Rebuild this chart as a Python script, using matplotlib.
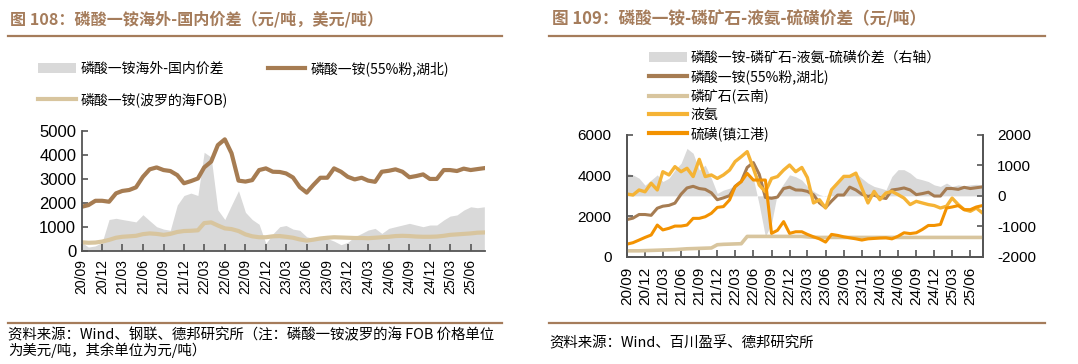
import numpy as np
import pandas as pd
import matplotlib
matplotlib.use("Agg")
import matplotlib.pyplot as plt
from matplotlib.lines import Line2D
from matplotlib.patches import Patch

plt.rcParams['font.family'] = ['Noto Sans CJK SC', 'DejaVu Sans']

# monthly dates, 2020/09 .. 2025/08
dates = pd.date_range("2020-09-01", "2025-08-01", freq="MS")

# MAP 55% powder, Hubei (yuan/t)
map_hubei = [1830, 1900, 2080, 2080,
             2040, 2390, 2490, 2530, 2640, 3080, 3390, 3470, 3360, 3320, 3150, 2810,
             2900, 3010, 3470, 3710, 4400, 4640, 4060, 2920, 2880, 2940, 3360, 3430,
             3290, 3280, 3220, 3050, 2650, 2420, 2740, 3040, 3040, 3430, 3290, 3080,
             2970, 3040, 2920, 2870, 3290, 3330, 3390, 3290, 3060, 3110, 3180, 2990,
             2990, 3360, 3360, 3320, 3420, 3360, 3400, 3440]
# MAP Baltic FOB (usd/t)
map_fob = [350, 330, 340, 380,
           450, 540, 580, 600, 620, 690, 720, 700, 660, 700, 780, 820,
           830, 850, 1150, 1180, 1050, 930, 900, 820, 680, 600, 560, 560,
           600, 610, 580, 540, 470, 420, 460, 510, 540, 560, 550, 540,
           530, 530, 520, 540, 560, 580, 610, 620, 610, 590, 580, 580,
           590, 620, 660, 680, 700, 720, 750, 760]
# overseas - domestic spread
spread_os = [350, 150, 200, 350,
             1300, 1350, 1300, 1250, 1200, 1500, 1250, 1000, 900, 850, 1900, 2300,
             2400, 2300, 4100, 3900, 1700, 1300, 1900, 2500, 1600, 1300, 1100, 300,
             700, 1000, 1050, 900, 850, 580, 510, 560, 510, 400, 250, 350,
             580, 720, 860, 930, 720, 930, 1000, 1070, 1140, 1070, 1000, 1070,
             1070, 1280, 1440, 1490, 1690, 1830, 1790, 1830]

# phosphate rock, Yunnan
rock = [290, 290, 290, 300,
        310, 320, 330, 340, 350, 370, 390, 400, 410, 420, 430, 590,
        610, 620, 630, 640, 1000, 1000, 1000, 1000, 1000, 1000, 1000, 1000,
        1000, 1000, 980, 960, 950, 950, 950, 950, 950, 950, 950, 950,
        950, 950, 950, 950, 950, 950, 950, 950, 950, 950, 950, 950,
        950, 950, 950, 950, 950, 950, 950, 950]
# liquid ammonia
ammonia = [3090, 3040, 3290, 3200,
           3620, 3290, 4190, 4030, 4440, 4190, 4360, 3950, 4800, 3950, 4030, 3860,
           4030, 4270, 4690, 4930, 5180, 4360, 3530, 3200, 3860, 3950, 4270, 4520,
           4190, 4400, 3900, 2650, 2810, 2400, 3300, 3630, 3960, 3960, 4120, 3380,
           2650, 3220, 2810, 3140, 3220, 3060, 2890, 2570, 2730, 2650, 2570, 2520,
           2400, 2490, 2890, 2570, 2320, 2240, 2400, 2160]
# sulphur, Zhenjiang port
sulphur = [620, 690, 820, 950,
           1070, 1560, 1320, 1400, 1510, 1510, 1560, 1890, 1890, 1970, 2140, 2430,
           2470, 2800, 3450, 3700, 4110, 3780, 3780, 3780, 1150, 1300, 1730, 1150,
           1230, 1230, 1100, 980, 880, 720, 1100, 1050, 980, 930, 880, 820,
           880, 900, 920, 930, 880, 1010, 1180, 1140, 1180, 1340, 1540, 1540,
           1590, 2400, 2450, 2520, 2320, 2320, 2450, 2520]
# MAP - rock - ammonia - sulphur spread (right axis)
spread_map = [740, 690, 580, 350,
              520, 690, 470, 580, 850, 1070, 1560, 1400, 850, 1010, 580, 80,
              190, 250, 350, 470, 690, 580, -300, -1340, -900, 100, 400, 690,
              630, 520, 310, 150, 40, -20, 150, 420, 690, 690, 750, 580,
              420, 310, 260, 200, 640, 860, 860, 750, 580, 530, 470, 360,
              310, 420, 310, 360, 330, 360, 380, 360]

tick_dates = pd.date_range("2020-09-01", "2025-06-01", freq="3MS")
tick_labels = [d.strftime("%y/%m") for d in tick_dates]

BROWN = "#A67C52"
TAN = "#D8C59E"
GRAY = "#D9D9D9"
YELLOW = "#F5B335"
ORANGE = "#F39200"
TITLE_C = "#A57C5B"
SPINE = "#555555"

W, H = 1078, 364
fig = plt.figure(figsize=(W / 100, H / 100), dpi=100)

def fx(px):
    return px / W

def fy(py):
    return 1 - py / H

# titles, rules and sources
fig.text(fx(10), fy(19), "图 108：磷酸一铵海外-国内价差（元/吨，美元/吨）",
         fontsize=11.6, fontweight="bold", color=TITLE_C, va="center")
fig.text(fx(552), fy(19), "图 109：磷酸一铵-磷矿石-液氨-硫磺价差（元/吨）",
         fontsize=12, fontweight="bold", color=TITLE_C, va="center")
for x0, x1 in [(8, 502), (549, 1045)]:
    for yy in (36, 323):
        fig.add_artist(Line2D([fx(x0), fx(x1)], [fy(yy), fy(yy)], color=TITLE_C, lw=1.6))
fig.text(fx(8), fy(335), "资料来源：Wind、钢联、德邦研究所（注：磷酸一铵波罗的海 FOB 价格单位",
         fontsize=10.4, va="center")
fig.text(fx(8), fy(350), "为美元/吨，其余单位为元/吨）", fontsize=10.4, va="center")
fig.text(fx(549), fy(343), "资料来源：Wind、百川盈孚、德邦研究所", fontsize=10.4, va="center")

xlim = (pd.Timestamp("2020-09-01"), pd.Timestamp("2025-08-04"))

# ---------- left chart ----------
ax = fig.add_axes([fx(81.7), fy(250.7), fx(485 - 81.7), 120 / H])
ax.fill_between(dates, 0, spread_os, color=GRAY, lw=0)
ax.plot(dates, map_hubei, color=BROWN, lw=3)
ax.plot(dates, map_fob, color=TAN, lw=3)
ax.set_xlim(xlim)
ax.set_ylim(0, 5000)
ax.set_yticks(np.arange(0, 5001, 1000))
ax.set_yticklabels([str(v) for v in range(0, 5001, 1000)], fontfamily="Liberation Sans", fontsize=12)
ax.set_xticks(tick_dates)
ax.set_xticklabels(tick_labels, rotation=90, fontfamily="Liberation Sans", fontsize=10)
ax.tick_params(axis="y", direction="in", length=4, pad=4, color=SPINE, width=1.2)
ax.tick_params(axis="x", direction="in", length=5, pad=6, color=SPINE, width=1.2)
for s in ("top", "right"):
    ax.spines[s].set_visible(False)
for s in ("left", "bottom"):
    ax.spines[s].set_color(SPINE)
    ax.spines[s].set_linewidth(1.3)

h_gray = Patch(facecolor=GRAY, edgecolor="none")
h_brown = Line2D([], [], color=BROWN, lw=3)
h_tan = Line2D([], [], color=TAN, lw=3)
fig.legend([h_gray, h_tan, h_brown],
           ["磷酸一铵海外-国内价差", "磷酸一铵(波罗的海FOB)", "磷酸一铵(55%粉,湖北)"],
           ncol=2, loc="upper left", bbox_to_anchor=(fx(38), fy(61)), frameon=False,
           fontsize=10, handlelength=2.7, handletextpad=0.35, columnspacing=2.9,
           labelspacing=1.2, borderpad=0, borderaxespad=0)

# ---------- right chart ----------
axl = fig.add_axes([fx(627), fy(256.7), fx(983 - 627), 121.7 / H])
axr = axl.twinx()
axr.fill_between(dates, 0, spread_map, color=GRAY, lw=0)
axl.set_zorder(axr.get_zorder() + 1)
axl.patch.set_visible(False)
axl.plot(dates, map_hubei, color=BROWN, lw=2.2)
axl.plot(dates, rock, color=TAN, lw=2.6)
axl.plot(dates, ammonia, color=YELLOW, lw=2.4)
axl.plot(dates, sulphur, color=ORANGE, lw=2.2)
axl.set_xlim(xlim)
axl.set_ylim(0, 6000)
axr.set_ylim(-2000, 2000)
axl.set_yticks(np.arange(0, 6001, 2000))
axl.set_yticklabels([str(v) for v in range(0, 6001, 2000)], fontfamily="Liberation Sans", fontsize=11)
axr.set_yticks(np.arange(-2000, 2001, 1000))
axr.set_yticklabels([str(v) for v in range(-2000, 2001, 1000)], fontfamily="Liberation Sans", fontsize=11)
axl.set_xticks(tick_dates)
axl.set_xticklabels(tick_labels, rotation=90, fontfamily="Liberation Sans", fontsize=11)
axl.tick_params(axis="y", direction="in", length=4, pad=11, color=SPINE, width=1.2)
axr.tick_params(axis="y", direction="in", length=4, pad=10, color=SPINE, width=1.2)
axl.tick_params(axis="x", direction="in", length=5, pad=7, color=SPINE, width=1.2)
for a in (axl, axr):
    a.spines["top"].set_visible(False)
    for s in ("left", "right", "bottom"):
        a.spines[s].set_color(SPINE)
        a.spines[s].set_linewidth(1.3)

fig.legend([Patch(facecolor=GRAY, edgecolor="none"),
            Line2D([], [], color=BROWN, lw=3),
            Line2D([], [], color=TAN, lw=3),
            Line2D([], [], color=YELLOW, lw=3),
            Line2D([], [], color=ORANGE, lw=3)],
           ["磷酸一铵-磷矿石-液氨-硫磺价差（右轴）", "磷酸一铵(55%粉,湖北)",
            "磷矿石(云南)", "液氨", "硫磺(镇江港)"],
           loc="upper left", bbox_to_anchor=(fx(649), fy(51)), frameon=False,
           fontsize=10, handlelength=2.7, handletextpad=0.3,
           labelspacing=0.32, borderpad=0, borderaxespad=0)

fig.savefig("out.png", dpi=100)
